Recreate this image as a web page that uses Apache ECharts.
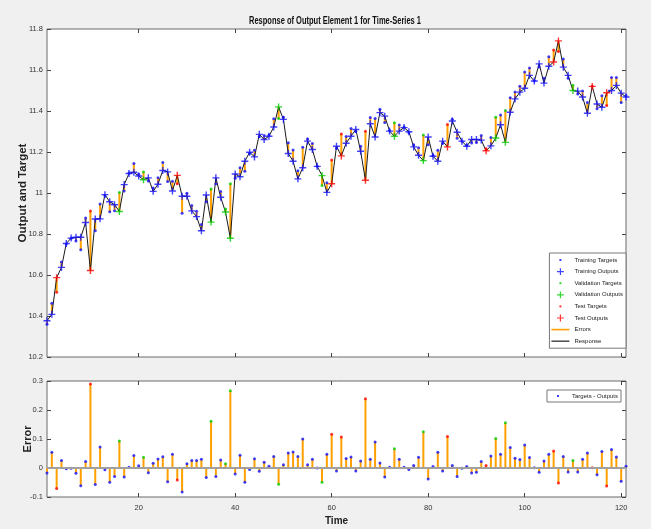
<!DOCTYPE html>
<html>
<head>
<meta charset="utf-8">
<script src="https://cdn.jsdelivr.net/npm/echarts@6/dist/echarts.min.js"></script>
<style>
  html, body { margin: 0; padding: 0; background: #f0f0f0; }
  #chart { width: 651px; height: 529px; }
</style>
</head>
<body>
<div id="chart"></div>
<script>
// Network outputs for each time step (1..121)
const outputs = [
  10.377, 10.408, 10.587, 10.637, 10.754, 10.780, 10.784, 10.784, 10.856, 10.622,
  10.873, 10.874, 10.992, 10.957, 10.943, 10.910, 11.041, 11.095, 11.101, 11.083,
  11.065, 11.074, 11.008, 11.043, 11.110, 11.103, 11.010, 11.086, 10.984, 10.984,
  10.913, 10.885, 10.816, 10.990, 10.858, 11.074, 10.979, 10.907, 10.779, 11.093,
  11.079, 11.155, 11.199, 11.176, 11.286, 11.261, 11.277, 11.322, 11.420, 11.359,
  11.193, 11.155, 11.069, 11.123, 11.253, 11.212, 11.130, 11.085, 11.003, 11.045,
  11.228, 11.181, 11.243, 11.277, 11.310, 11.204, 11.062, 11.338, 11.273, 11.392,
  11.375, 11.302, 11.277, 11.302, 11.319, 11.299, 11.225, 11.184, 11.158, 11.273,
  11.179, 11.155, 11.253, 11.225, 11.351, 11.296, 11.253, 11.228, 11.261, 11.261,
  11.258, 11.206, 11.230, 11.268, 11.333, 11.247, 11.394, 11.459, 11.492, 11.511,
  11.574, 11.546, 11.630, 11.536, 11.618, 11.639, 11.742, 11.614, 11.574, 11.500,
  11.497, 11.468, 11.389, 11.520, 11.434, 11.418, 11.489, 11.500, 11.525, 11.487,
  11.468
];

// Errors (targets - outputs) for each time step
const errors = [
  -0.017, 0.054, -0.071, 0.026, -0.003, -0.001, -0.018, -0.061, 0.022, 0.290,
  -0.057, 0.072, -0.006, -0.049, -0.029, 0.093, -0.031, 0.003, 0.043, 0.008,
  0.037, -0.016, 0.016, 0.031, 0.039, -0.047, 0.047, -0.041, -0.083, 0.015,
  0.026, 0.026, 0.030, -0.033, 0.161, -0.029, 0.028, 0.015, 0.266, -0.021,
  0.044, -0.049, -0.005, 0.032, -0.011, 0.020, 0.006, 0.040, -0.056, 0.011,
  0.052, 0.055, 0.040, 0.100, 0.011, 0.030, 0.000, -0.049, 0.047, 0.116,
  -0.010, 0.107, 0.033, 0.038, -0.010, 0.024, 0.239, 0.030, 0.090, 0.017,
  -0.031, 0.003, 0.066, 0.030, 0.003, -0.005, 0.009, 0.037, 0.125, -0.038,
  0.005, 0.054, -0.010, 0.109, 0.009, -0.029, -0.001, 0.005, -0.017, -0.015,
  0.022, 0.009, 0.041, 0.102, 0.047, 0.156, 0.071, 0.034, 0.029, 0.079,
  0.036, 0.001, -0.015, 0.024, 0.047, 0.059, -0.052, 0.040, -0.014, 0.026,
  -0.014, 0.030, 0.052, 0.001, -0.023, 0.057, -0.062, 0.064, 0.038, -0.046,
  0.006
];

// Time steps assigned to the validation and test subsets (the rest are training)
const validationSteps = [16, 21, 35, 38, 39, 49, 58, 73, 79, 94, 96, 110];
const testSteps = [3, 10, 28, 60, 62, 67, 84, 92, 106, 107, 114, 117];

// Tick positions on the time axis
const timeTicks = [20, 40, 60, 80, 100, 120];

const TITLE = 'Response of Output Element 1 for Time-Series 1';

const COLOR = {
  train: '#1010ff',
  val: '#00cc00',
  test: '#ff0000',
  err: '#ffa000',
  resp: '#1a1a1a'
};
const FONT = "'Liberation Sans', Arial, sans-serif";

const steps = outputs.map((_, i) => i + 1);
const targets = outputs.map((o, i) => +(o + errors[i]).toFixed(4));
const subsetOf = t => testSteps.includes(t) ? 'test' : (validationSteps.includes(t) ? 'val' : 'train');

const PLUS = 'path://M4,0H6V4H10V6H6V10H4V6H0V4H4Z';
const LEG_DOT = 'path://M0,0M18,8M8,3H10V5H8Z';
const LEG_PLUS = 'path://M0,0M18,8M8.4,0.6H9.6V3.4H12.4V4.6H9.6V7.4H8.4V4.6H5.6V3.4H8.4Z';
const LEG_LINE = 'path://M0,0M18,8M0,3.2H18V4.8H0Z';

function pointsOf(subset, values) {
  return steps.filter(t => subsetOf(t) === subset).map(t => [t, values[t - 1]]);
}

const segRender = (params, api) => {
  const a = api.coord([api.value(0), api.value(1)]);
  const b = api.coord([api.value(0), api.value(2)]);
  return {
    type: 'line',
    shape: { x1: a[0], y1: a[1], x2: b[0], y2: b[1] },
    style: { stroke: COLOR.err, lineWidth: 2 }
  };
};

const tickStyle = { inside: true, length: 4, lineStyle: { color: '#444', width: 1 } };

function xAxisFor(grid, position, withLabels) {
  return {
    type: 'value', gridIndex: grid, position: position, min: 1, max: 121,
    axisLine: { show: false, onZero: false },
    splitLine: { show: false },
    axisTick: Object.assign({ customValues: timeTicks }, tickStyle),
    axisLabel: withLabels
      ? { show: true, customValues: timeTicks, fontSize: 7.5, color: '#333', margin: 7, fontFamily: FONT }
      : { show: false }
  };
}

function yAxisFor(grid, position, min, max, interval, name, nameGap, nameSize) {
  const ax = {
    type: 'value', gridIndex: grid, position: position, min: min, max: max, interval: interval,
    axisLine: { show: false, onZero: false },
    splitLine: { show: false },
    axisTick: tickStyle,
    axisLabel: { show: false }
  };
  if (name) {
    ax.axisLabel = { show: true, fontSize: 7.5, color: '#333', margin: 4, fontFamily: FONT };
    ax.name = name;
    ax.nameLocation = 'middle';
    ax.nameGap = nameGap;
    ax.nameRotate = 90;
    ax.nameMoveOverlap = false;
    ax.nameTextStyle = { fontFamily: FONT, fontWeight: 'bold', fontSize: nameSize, color: '#222' };
  }
  return ax;
}

const legendItem = (name, icon, color) => ({ name, icon, itemStyle: { color, borderWidth: 0 } });

const option = {
  backgroundColor: '#f0f0f0',
  animation: false,
  graphic: [
    {
      type: 'text', x: 335, y: 21, scaleX: 0.75, silent: true,
      style: {
        text: TITLE, fill: '#111', align: 'center', verticalAlign: 'middle',
        font: "bold 10px 'Liberation Sans', Arial, sans-serif"
      }
    }
  ],
  grid: [
    { left: 47, right: 25, top: 29, height: 328, show: true, backgroundColor: '#fff', borderColor: '#6a6a6a', borderWidth: 1 },
    { left: 47, right: 25, top: 381, height: 116, show: true, backgroundColor: '#fff', borderColor: '#6a6a6a', borderWidth: 1 }
  ],
  xAxis: [
    xAxisFor(0, 'bottom', false),
    Object.assign(xAxisFor(1, 'bottom', true), {
      name: 'Time', nameLocation: 'middle', nameGap: 19, nameMoveOverlap: false,
      nameTextStyle: { fontFamily: FONT, fontWeight: 'bold', fontSize: 10, color: '#222' }
    }),
    xAxisFor(0, 'top', false),
    xAxisFor(1, 'top', false)
  ],
  yAxis: [
    yAxisFor(0, 'left', 10.2, 11.8, 0.2, 'Output and Target', 18, 11.5),
    yAxisFor(1, 'left', -0.1, 0.3, 0.1, 'Error', 14, 11),
    yAxisFor(0, 'right', 10.2, 11.8, 0.2, '', 0, 0),
    yAxisFor(1, 'right', -0.1, 0.3, 0.1, '', 0, 0)
  ],
  legend: [
    {
      orient: 'vertical', right: 25, top: 253,
      itemWidth: 18, itemHeight: 8, itemGap: 3.6,
      padding: [3, 3, 3, 2],
      backgroundColor: '#fff', borderColor: '#777', borderWidth: 1, borderRadius: 0,
      selectedMode: false,
      textStyle: { fontFamily: FONT, fontSize: 6, color: '#222' },
      data: [
        legendItem('Training Targets', LEG_DOT, COLOR.train),
        legendItem('Training Outputs', LEG_PLUS, COLOR.train),
        legendItem('Validation Targets', LEG_DOT, COLOR.val),
        legendItem('Validation Outputs', LEG_PLUS, COLOR.val),
        legendItem('Test Targets', LEG_DOT, COLOR.test),
        legendItem('Test Outputs', LEG_PLUS, COLOR.test),
        legendItem('Errors', LEG_LINE, COLOR.err),
        legendItem('Response', LEG_LINE, '#555')
      ]
    },
    {
      orient: 'horizontal', right: 30, top: 390,
      itemWidth: 18, itemHeight: 8,
      padding: [2, 3, 2, 2],
      backgroundColor: '#fff', borderColor: '#777', borderWidth: 1, borderRadius: 0,
      selectedMode: false,
      textStyle: { fontFamily: FONT, fontSize: 6, color: '#222' },
      data: [legendItem('Targets - Outputs', LEG_DOT, COLOR.train)]
    }
  ],
  series: [
    {
      name: 'Errors', type: 'custom', xAxisIndex: 0, yAxisIndex: 0, z: 1,
      itemStyle: { color: COLOR.err },
      renderItem: segRender,
      encode: { x: 0, y: [1, 2] },
      data: steps.map(t => [t, outputs[t - 1], targets[t - 1]])
    },
    {
      name: 'Response', type: 'line', xAxisIndex: 0, yAxisIndex: 0, z: 2,
      symbol: 'none', color: COLOR.resp,
      lineStyle: { color: COLOR.resp, width: 1 },
      data: steps.map(t => [t, outputs[t - 1]])
    },
    { name: 'Training Targets', type: 'scatter', xAxisIndex: 0, yAxisIndex: 0, z: 3, symbol: 'circle', symbolSize: 3, itemStyle: { color: COLOR.train }, data: pointsOf('train', targets) },
    { name: 'Training Outputs', type: 'scatter', xAxisIndex: 0, yAxisIndex: 0, z: 4, symbol: PLUS, symbolSize: 7, itemStyle: { color: COLOR.train }, data: pointsOf('train', outputs) },
    { name: 'Validation Targets', type: 'scatter', xAxisIndex: 0, yAxisIndex: 0, z: 3, symbol: 'circle', symbolSize: 3, itemStyle: { color: COLOR.val }, data: pointsOf('val', targets) },
    { name: 'Validation Outputs', type: 'scatter', xAxisIndex: 0, yAxisIndex: 0, z: 4, symbol: PLUS, symbolSize: 7, itemStyle: { color: COLOR.val }, data: pointsOf('val', outputs) },
    { name: 'Test Targets', type: 'scatter', xAxisIndex: 0, yAxisIndex: 0, z: 3, symbol: 'circle', symbolSize: 3, itemStyle: { color: COLOR.test }, data: pointsOf('test', targets) },
    { name: 'Test Outputs', type: 'scatter', xAxisIndex: 0, yAxisIndex: 0, z: 4, symbol: PLUS, symbolSize: 7, itemStyle: { color: COLOR.test }, data: pointsOf('test', outputs) },
    {
      name: 'Error stems', type: 'custom', xAxisIndex: 1, yAxisIndex: 1, z: 2,
      itemStyle: { color: COLOR.err },
      renderItem: (params, api) => {
        const a = api.coord([api.value(0), 0]);
        const b = api.coord([api.value(0), api.value(1)]);
        return {
          type: 'line',
          shape: { x1: a[0], y1: a[1], x2: b[0], y2: b[1] },
          style: { stroke: COLOR.err, lineWidth: 2 }
        };
      },
      encode: { x: 0, y: 1 },
      data: steps.map(t => [t, errors[t - 1]]),
      markLine: {
        silent: true, symbol: 'none', label: { show: false },
        lineStyle: { color: '#a0a0a0', width: 2, type: 'solid' },
        data: [{ yAxis: 0 }]
      }
    },
    {
      name: 'Targets - Outputs', type: 'scatter', xAxisIndex: 1, yAxisIndex: 1, z: 4,
      symbol: 'circle', symbolSize: 3, itemStyle: { color: COLOR.train },
      data: steps.map(t => ({ value: [t, errors[t - 1]], itemStyle: { color: COLOR[subsetOf(t)] } }))
    }
  ]
};

const chart = echarts.init(document.getElementById('chart'));
chart.setOption(option);
</script>
</body>
</html>
